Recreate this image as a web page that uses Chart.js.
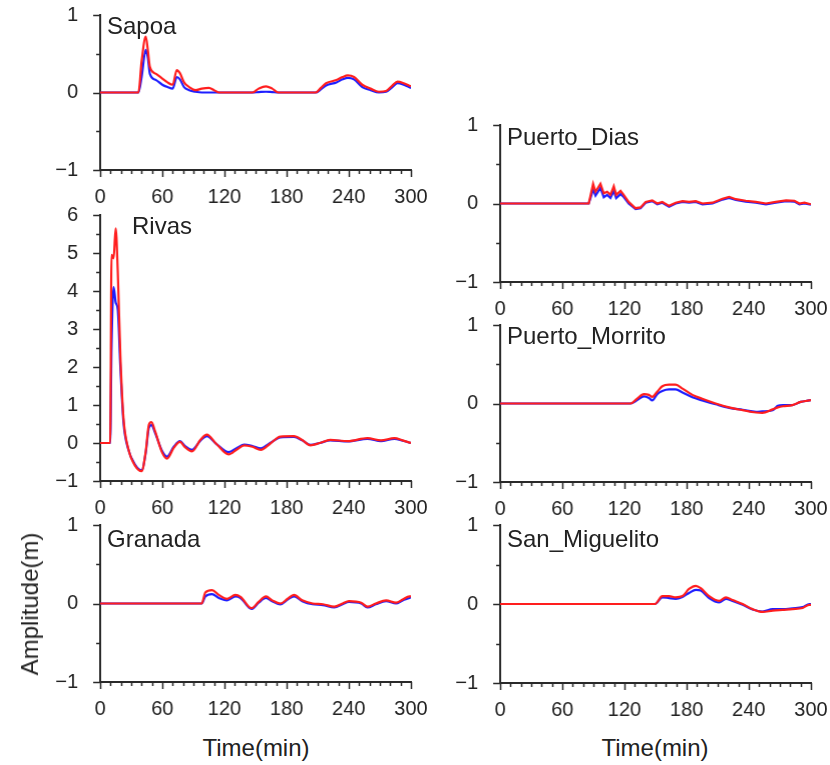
<!DOCTYPE html>
<html>
<head>
<meta charset="utf-8">
<script src="https://cdn.jsdelivr.net/npm/chart.js@4.4.0/dist/chart.umd.min.js"></script>
<style>
body{margin:0;background:#fff;width:830px;height:765px;position:relative;overflow:hidden;font-family:"Liberation Sans",Arial,sans-serif;color:#222}
.name{position:absolute;font-size:24px;line-height:24px;white-space:nowrap}
.axt{position:absolute;font-size:24px;line-height:24px;white-space:nowrap;transform:translate(-50%,-50%)}
</style>
</head>
<body>

<script>
// time (min) and amplitude (m); red and blue are the two model runs
const sapoaT    = [0, 37, 40, 44, 46, 48, 54, 60, 65, 70, 74, 77, 81, 86, 92, 98, 105, 110, 115, 147, 153, 160, 166, 172, 208, 213, 218, 228, 234, 239, 245, 253, 261, 269, 276, 282, 287, 293, 298, 300];
const sapoaRed  = [0, 0, 0.4, 0.72, 0.55, 0.33, 0.24, 0.18, 0.13, 0.10, 0.29, 0.25, 0.13, 0.07, 0.03, 0.05, 0.06, 0.03, 0, 0, 0.05, 0.08, 0.05, 0, 0, 0.06, 0.12, 0.16, 0.2, 0.22, 0.2, 0.1, 0.05, 0.01, 0.02, 0.09, 0.14, 0.12, 0.09, 0.08];
const sapoaBlue = [0, 0, 0.2, 0.55, 0.45, 0.24, 0.16, 0.1, 0.07, 0.05, 0.2, 0.17, 0.07, 0.03, 0.01, 0, 0, 0, 0, 0, 0.005, 0.01, 0.005, 0, 0, 0.04, 0.09, 0.13, 0.17, 0.19, 0.17, 0.07, 0.03, 0, 0.01, 0.07, 0.12, 0.1, 0.07, 0.06];

const rivasT    = [0, 9.7, 11, 13, 15, 17, 19.5, 22.5, 27, 34, 40, 44, 47, 49.5, 53, 60, 64.5, 71, 77, 82, 88.5, 97, 103, 112, 124, 132, 139, 147, 155, 164, 174, 187, 195, 203, 212, 222, 239, 258, 271, 284, 292, 300];
const rivasRed  = [0, 0, 4.95, 4.86, 5.65, 4.5, 2.3, 0.66, -0.13, -0.61, -0.74, -0.22, 0.48, 0.55, 0.31, -0.26, -0.41, -0.13, 0.03, -0.11, -0.22, 0.09, 0.22, -0.02, -0.3, -0.17, -0.06, -0.1, -0.18, -0.02, 0.17, 0.18, 0.08, -0.06, 0, 0.08, 0.05, 0.13, 0.07, 0.13, 0.07, 0];
const rivasBlue = [0, 0, 2.5, 4.1, 3.7, 3.5, 2.0, 0.55, -0.15, -0.58, -0.72, -0.25, 0.4, 0.47, 0.27, -0.22, -0.36, -0.1, 0.05, -0.08, -0.18, 0.07, 0.18, -0.02, -0.24, -0.13, -0.04, -0.08, -0.14, 0, 0.15, 0.16, 0.07, -0.05, 0, 0.07, 0.04, 0.11, 0.05, 0.11, 0.06, 0];

const granadaT    = [0, 98, 101.5, 108, 114.5, 122.5, 130.5, 135.5, 146, 153, 160, 166, 174, 181, 187, 195, 205, 215, 226, 234, 240, 252, 258, 266, 276, 285.5, 292, 298.5, 300];
const granadaRed  = [0, 0, 0.14, 0.17, 0.11, 0.06, 0.11, 0.085, -0.06, 0.02, 0.09, 0.04, 0, 0.06, 0.11, 0.04, 0, -0.01, -0.04, 0, 0.03, 0.01, -0.04, 0, 0.04, 0.01, 0.05, 0.09, 0.09];
const granadaBlue = [0, 0, 0.09, 0.12, 0.07, 0.04, 0.09, 0.07, -0.07, 0.01, 0.07, 0.03, -0.01, 0.05, 0.09, 0.03, -0.01, -0.02, -0.05, -0.01, 0.02, 0, -0.05, -0.01, 0.03, 0, 0.04, 0.07, 0.08];

const diasT    = [0, 85.5, 87, 89.7, 92, 96.8, 100, 103.3, 106.5, 109.7, 112, 116.2, 118.7, 124, 130.7, 135.5, 140.4, 146.8, 151.6, 156.5, 163, 169.4, 176, 182.3, 188.8, 195.2, 205, 214.6, 221, 227.5, 237, 246.8, 256.5, 266, 276, 284, 288.8, 293.7, 300];
const diasRed  = [0, 0, 0.085, 0.25, 0.15, 0.25, 0.13, 0.15, 0.11, 0.22, 0.11, 0.16, 0.12, 0.02, -0.06, -0.05, 0.02, 0.04, 0, 0.02, -0.03, 0.01, 0.03, 0.02, 0.03, 0, 0.01, 0.06, 0.085, 0.055, 0.035, 0.02, 0, 0.02, 0.04, 0.035, 0, 0.01, -0.01];
const diasBlue = [0, 0, 0.06, 0.18, 0.1, 0.2, 0.08, 0.11, 0.07, 0.16, 0.07, 0.12, 0.09, 0, -0.07, -0.06, 0.01, 0.03, -0.01, 0.01, -0.04, 0, 0.02, 0.01, 0.02, -0.01, 0, 0.05, 0.07, 0.045, 0.025, 0.01, -0.01, 0.01, 0.03, 0.025, -0.01, 0, -0.015];

const morritoT    = [0, 126, 132, 138.7, 143.6, 146.8, 151.6, 156.5, 163, 169.4, 176, 185.5, 195, 208, 221, 234, 247, 253, 263, 268, 273, 282, 290, 298.5, 300];
const morritoRed  = [0, 0, 0.06, 0.12, 0.11, 0.085, 0.15, 0.22, 0.24, 0.24, 0.19, 0.11, 0.06, 0, -0.05, -0.085, -0.115, -0.12, -0.075, -0.05, -0.035, -0.02, 0.02, 0.04, 0.045];
const morritoBlue = [0, 0, 0.04, 0.09, 0.07, 0.04, 0.12, 0.16, 0.18, 0.18, 0.14, 0.08, 0.04, -0.01, -0.055, -0.08, -0.105, -0.1, -0.085, -0.03, -0.02, -0.02, 0.02, 0.04, 0.045];

const miguelitoT    = [0, 149.5, 156.5, 163, 169.4, 176, 182.3, 188.8, 193.6, 201.7, 211.4, 217.8, 224.3, 234, 243.6, 253.3, 263, 272.6, 282.3, 292, 298.5, 300];
const miguelitoRed  = [0, 0, 0.1, 0.1, 0.085, 0.1, 0.19, 0.23, 0.2, 0.1, 0.04, 0.085, 0.05, 0, -0.065, -0.1, -0.085, -0.075, -0.065, -0.05, -0.01, -0.01];
const miguelitoBlue = [0, 0, 0.085, 0.075, 0.065, 0.09, 0.14, 0.18, 0.17, 0.075, 0.02, 0.065, 0.04, -0.01, -0.07, -0.095, -0.065, -0.065, -0.055, -0.04, 0, 0];

const timeTicks = [0, 60, 120, 180, 240, 300];

const RED = 'rgb(255,30,30)';
const BLUE = 'rgb(30,30,255)';
const AXIS = '#2a2a2a';

Chart.defaults.font.family = '"Liberation Sans", Arial, sans-serif';
Chart.defaults.font.size = 20;
Chart.defaults.color = '#222';

// panel boxes (plot area in page pixels)
const panels = [
  {name:'Sapoa',          t:sapoaT,     red:sapoaRed,     blue:sapoaBlue,     ymin:-1, ymax:1, box:[100,15,410,170],  lab:[107,14],  smooth:true},
  {name:'Rivas',          t:rivasT,     red:rivasRed,     blue:rivasBlue,     ymin:-1, ymax:6, box:[100,215,410,481], lab:[132,214], smooth:true},
  {name:'Granada',        t:granadaT,   red:granadaRed,   blue:granadaBlue,   ymin:-1, ymax:1, box:[100,525,410,682], lab:[107,527], smooth:true},
  {name:'Puerto_Dias',    t:diasT,      red:diasRed,      blue:diasBlue,      ymin:-1, ymax:1, box:[500,125,810,282], lab:[507,125], smooth:false},
  {name:'Puerto_Morrito', t:morritoT,   red:morritoRed,   blue:morritoBlue,   ymin:-1, ymax:1, box:[500,325,810,482], lab:[507,324], smooth:true},
  {name:'San_Miguelito',  t:miguelitoT, red:miguelitoRed, blue:miguelitoBlue, ymin:-1, ymax:1, box:[500,525,810,683], lab:[507,527], smooth:true}
];

// small outward tick marks (major + minor), GMT style
const tickMarks = {
  id:'tickMarks',
  afterDraw(chart){
    const {ctx, chartArea:a, scales:{x, y}} = chart;
    ctx.save();
    ctx.strokeStyle = AXIS;
    ctx.lineWidth = 1.5;
    ctx.beginPath();
    for(let v=0; v<=300; v+=10){
      const px = Math.round(x.getPixelForValue(v)) + 0.5;
      const len = v % 60 === 0 ? 7 : 4;
      ctx.moveTo(px, a.bottom);
      ctx.lineTo(px, a.bottom + len);
    }
    for(let v=y.min; v<=y.max+1e-9; v+=0.5){
      const py = Math.round(y.getPixelForValue(v)) + 0.5;
      const len = Number.isInteger(v) ? 7 : 4;
      ctx.moveTo(a.left, py);
      ctx.lineTo(a.left - len, py);
    }
    ctx.stroke();
    ctx.restore();
  }
};

const padL=60, padT=16, padR=24, padB=40;

panels.forEach(p=>{
  const [l,t,r,b] = p.box;
  const cv = document.createElement('canvas');
  cv.width = (r-l)+padL+padR;
  cv.height = (b-t)+padT+padB;
  cv.style.position = 'absolute';
  cv.style.width = cv.width+'px';
  cv.style.height = cv.height+'px';
  document.body.appendChild(cv);

  const line = (vals, col) => ({
    data: p.t.map((x,i)=>({x, y:vals[i]})),
    borderColor: col,
    borderWidth: 2.2,
    pointRadius: 0,
    fill: false,
    tension: p.smooth ? 0.4 : 0,
    cubicInterpolationMode: p.smooth ? 'monotone' : 'default'
  });

  const chart = new Chart(cv, {
    type:'line',
    data:{datasets:[line(p.red, RED), line(p.blue, BLUE)]},
    options:{
      responsive:false,
      maintainAspectRatio:false,
      animation:false,
      devicePixelRatio:1,
      layout:{padding:{top:padT, right:padR, left:0, bottom:0}},
      plugins:{legend:{display:false}, tooltip:{enabled:false}},
      scales:{
        x:{
          type:'linear', min:0, max:300,
          afterFit: s => { s.height = padB; },
          afterBuildTicks: s => { s.ticks = timeTicks.map(v=>({value:v})); },
          ticks:{padding:15, maxRotation:0, autoSkip:false},
          grid:{display:true, drawOnChartArea:false, drawTicks:false},
          border:{display:true, color:AXIS, width:2}
        },
        y:{
          type:'linear', min:p.ymin, max:p.ymax,
          afterFit: s => { s.width = padL; },
          ticks:{stepSize:1, padding:22, callback: v => v<0 ? '\u2212'+Math.abs(v) : String(v)},
          grid:{display:true, drawOnChartArea:false, drawTicks:false},
          border:{display:true, color:AXIS, width:2}
        }
      }
    },
    plugins:[tickMarks]
  });

  // fit the plot area to the wanted box, then place the canvas
  let a = chart.chartArea;
  const dw = (r-l) - (a.right-a.left), dh = (b-t) - (a.bottom-a.top);
  if(dw || dh) chart.resize(cv.width+dw, cv.height+dh);
  a = chart.chartArea;
  cv.style.left = (l - a.left)+'px';
  cv.style.top = (t - a.top)+'px';

  const d = document.createElement('div');
  d.className = 'name';
  d.textContent = p.name;
  d.style.left = p.lab[0]+'px';
  d.style.top = p.lab[1]+'px';
  document.body.appendChild(d);
});

// shared axis titles
[['Time(min)',256,748,0],['Time(min)',655,748,0],['Amplitude(m)',30,604,-90]].forEach(([txt,x,y,rot])=>{
  const d = document.createElement('div');
  d.className = 'axt';
  d.textContent = txt;
  d.style.left = x+'px';
  d.style.top = y+'px';
  if(rot) d.style.transform = 'translate(-50%,-50%) rotate('+rot+'deg)';
  document.body.appendChild(d);
});
</script>
</body>
</html>
